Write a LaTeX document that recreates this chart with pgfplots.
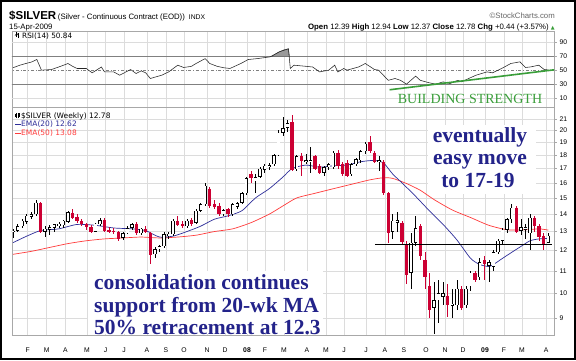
\documentclass[border=0pt]{standalone}
\usepackage{pgfplots}
\pgfplotsset{compat=1.18}
\usepackage{pgfplotstable}
\usepackage{fontspec}
\setmainfont{Liberation Sans}
\newfontfamily\serifface{Liberation Serif}
\newfontfamily\dejavu{DejaVu Sans}
\definecolor{cred}{HTML}{CC0033}
\definecolor{emablue}{HTML}{2E2E99}
\definecolor{emared}{HTML}{FF3B3B}
\definecolor{note}{HTML}{23238A}
\definecolor{grn}{HTML}{3A9E3A}
\definecolor{gridc}{HTML}{DCDCDC}
\definecolor{framec}{HTML}{A8A8A8}

% up candles (close >= open)
\pgfplotstableread{
i o h l c
-2 12.95 13.15 12.65 13.05
-1 13.05 13.40 12.95 13.30
0 13.30 13.70 13.20 13.60
1 13.55 14.00 13.45 13.90
2 13.85 14.10 13.70 14.00
3 14.00 14.85 13.90 14.70
5 13.00 13.30 12.70 13.15
6 13.10 13.35 12.80 13.25
7 13.20 13.45 13.00 13.40
8 13.30 13.55 13.20 13.45
9 13.35 13.65 13.20 13.60
10 13.55 14.20 13.50 14.10
16 13.00 13.50 12.95 13.45
17 13.40 13.75 13.30 13.65
22 12.65 13.00 12.55 12.90
23 12.90 13.30 12.85 13.20
24 13.20 13.50 13.10 13.40
26 12.90 13.20 12.80 13.15
29 11.80 12.15 11.60 12.05
30 12.05 12.30 11.90 12.20
31 12.20 12.95 12.10 12.85
32 12.75 12.95 12.60 12.88
33 12.85 13.70 12.75 13.60
36 13.30 13.70 13.20 13.60
38 13.50 14.30 13.40 14.20
39 14.20 14.70 14.10 14.60
40 14.60 16.00 14.50 15.80
44 14.00 14.30 13.90 14.25
46 14.00 14.70 13.90 14.60
47 14.45 14.75 14.30 14.65
48 14.70 15.40 14.60 15.30
49 15.30 16.40 15.20 16.30
51 16.10 16.60 15.30 16.40
52 16.40 17.10 16.30 17.00
53 16.90 17.30 16.70 17.20
54 17.12 17.40 16.90 17.25
55 17.30 18.10 17.20 18.00
56 18.00 20.00 17.90 19.80
57 19.80 21.20 19.50 20.20
58 20.20 20.90 19.90 20.60
60 16.95 18.00 16.80 17.90
62 17.47 18.10 17.30 17.60
63 17.45 18.60 16.70 17.60
66 16.70 17.20 16.50 17.10
67 17.10 17.40 16.90 17.30
68 17.10 18.30 17.00 18.20
72 16.60 17.40 16.50 17.30
73 17.30 17.80 17.20 17.70
74 17.60 18.40 17.40 18.30
75 18.30 19.00 18.10 18.90
78 17.45 17.90 16.80 17.60
81 13.00 14.00 12.60 13.60
82 13.50 14.10 13.00 13.65
85 10.90 12.90 10.20 12.40
86 12.40 13.90 12.20 13.20
90 9.40 10.50 8.40 9.70
91 9.70 10.60 8.80 10.00
92 9.85 10.50 9.50 10.00
94 9.48 10.20 9.00 9.56
95 9.50 10.60 9.30 10.20
97 9.50 10.30 9.40 10.20
98 10.30 11.00 10.10 10.90
100 10.70 11.60 10.60 11.40
102 11.25 11.50 10.50 11.40
103 11.20 12.00 11.00 11.90
104 11.90 12.60 11.80 12.50
105 12.50 13.20 12.30 13.10
106 13.10 13.80 12.90 13.70
107 13.70 14.60 13.50 14.40
109 13.05 13.70 12.80 13.25
110 13.10 13.40 12.60 13.25
111 12.90 14.00 12.00 13.80
115 12.39 12.94 12.37 12.78
}\upc

% down candles (close < open)
\pgfplotstableread{
i o h l c
4 14.65 14.75 12.90 13.00
11 14.05 14.30 13.70 13.80
12 13.85 14.00 13.50 13.60
13 13.60 13.70 13.30 13.40
14 13.40 13.50 13.10 13.25
15 13.25 13.35 12.90 13.00
18 13.65 13.80 12.95 13.05
19 13.10 13.25 12.90 13.00
20 13.05 13.20 12.85 12.95
21 12.95 13.05 12.50 12.60
25 13.45 13.55 12.80 12.90
27 13.15 13.30 12.90 12.95
28 12.90 13.00 11.30 11.75
34 13.60 13.90 13.30 13.35
35 13.40 13.60 13.20 13.30
37 13.65 13.80 13.30 13.40
41 15.60 15.70 14.40 14.50
42 14.60 14.90 14.30 14.45
43 14.50 14.70 13.90 14.00
45 14.30 14.40 13.85 14.00
50 16.60 16.80 16.00 16.30
59 20.70 21.35 16.80 16.90
61 17.90 18.20 16.50 17.55
64 17.90 18.00 16.90 17.00
65 17.20 17.30 16.60 16.70
69 18.20 18.40 17.00 17.20
70 17.30 17.50 16.50 16.60
71 17.40 17.60 16.40 16.50
76 19.00 19.50 18.20 18.30
77 18.20 18.30 17.40 17.50
79 17.50 17.60 15.20 15.30
80 15.30 15.40 12.40 12.90
83 13.50 13.60 12.30 12.45
84 12.30 12.50 10.40 10.80
87 13.30 13.40 11.50 11.70
88 11.50 11.90 10.20 10.70
89 10.30 10.90 9.00 9.30
93 9.90 10.40 9.05 9.50
96 10.20 10.30 9.30 9.40
99 10.90 11.00 10.50 10.60
101 11.50 11.70 10.60 11.30
108 14.40 14.50 12.90 13.00
112 13.80 13.90 13.00 13.30
113 13.30 13.40 12.50 12.70
114 12.75 12.90 12.00 12.35
}\dnc

\pgfplotsset{
  panel/.style={
    scale only axis, width=542pt, anchor=south west,
    xmin=-2.23, xmax=116.24,
    axis line style={framec, line width=0.5pt},
    grid style={gridc, line width=0.4pt},
    xtick={1.18,5.35,9.43,14.16,18.2,22.25,27.28,31.43,35.37,40.39,44.33,49.14,53.07,57.22,62.25,66.4,70.34,75.15,79.3,83.45,88.26,92.41,96.35,101.16,105.32,109.25,114.5},
    xmajorgrids,
    major x tick style={draw=none},
    ytick pos=right, yticklabel pos=right,
    ytick align=outside,
    major y tick style={framec, line width=0.4pt},
    major tick length=2.5pt,
    yticklabel style={font=\fontsize{6.8}{8}\selectfont, anchor=west, xshift=-0.5pt},
    xticklabel style={font=\fontsize{6.8}{8}\selectfont, anchor=base, yshift=-17.5pt},
  },
  wick/.style={draw=none, mark=none, forget plot,
    error bars/.cd, y dir=both, y explicit, error mark=none,
    error bar style={line width=0.6pt, #1}},
  body/.style={draw=none, mark=none, forget plot,
    error bars/.cd, y dir=both, y explicit, error mark=none,
    error bar style={line width=3.4pt, #1}},
}

\begin{document}
\begin{tikzpicture}
\fill[white] (0pt,0pt) rectangle (576pt,360pt);

% ---------------- RSI panel ----------------
\begin{axis}[panel, at={(12pt,253pt)}, height=76pt,
  ymin=-2.1, ymax=106.4,
  ytick={10,30,50,70,90}, yticklabels={10,30,50,70,90},
  xticklabels={}]
\addplot[gridc, line width=0.4pt, forget plot] coordinates {(-3,10) (117,10)};
\addplot[gridc, line width=0.4pt, forget plot] coordinates {(-3,90) (117,90)};
\addplot[gray, line width=0.6pt, forget plot] coordinates {(-3,70) (117,70)};
\addplot[gray, line width=0.6pt, forget plot] coordinates {(-3,30) (117,30)};
\addplot[gray, line width=0.5pt, dash dot, forget plot] coordinates {(-3,50) (117,50)};
\addplot[fill=gray!80, draw=black!70, line width=0.4pt, forget plot] coordinates {(54.5,70) (56.2,76.7) (57.2,79.5) (58.2,81) (58.4,70)} -- cycle;
\addplot[black!85, line width=0.55pt, forget plot] coordinates {
(-2,54) (-0.5,57.6) (0.8,60) (2,62) (3.2,65.7) (4.2,50.5) (6.4,51.4) (8.4,56) (10,60) (11,56)
(12,52.9) (14,52.9) (15.3,46.7) (17.3,55) (18,48) (20,48) (21.3,43.3) (23.7,51.4) (24.9,45.7)
(26,49.5) (27,46.7) (28,38.6) (30.5,43.3) (32,48) (34,57.6) (35.3,54.3) (37,56) (38,60) (40,67)
(41,60) (42.6,56) (44,54) (45.4,52.9) (47.8,60) (49.4,65.7) (51.4,67) (54.2,69.5) (56.2,76.7)
(58.2,81) (58.6,52.9) (59.4,57.6) (62,56) (63.5,55) (65,48) (67,50.5) (68.3,57.6) (69,48)
(70.3,52.9) (71,50.5) (73.5,55) (75,60) (77,51.4) (77.9,50.5) (80,36) (81.5,38.6) (82.7,36)
(84,30.5) (86,42) (87,36) (89,32.4) (90.4,30.5) (92,33.8) (93.5,31.4) (95.2,36) (96,33.8)
(97.6,38.6) (99.2,43.3) (100.4,45.7) (101.6,48) (102.8,46.7) (104.8,52.9) (106.8,60)
(108.8,62.4) (110,54.3) (111.2,55.2) (112.9,57.6) (114.1,51.4) (115,50.84)};
\addplot[grn, line width=1.6pt, forget plot] coordinates {(80.3,22.5) (116.3,51)};
\end{axis}

% ---------------- Price panel ----------------
\begin{axis}[panel, at={(12pt,25pt)}, height=228pt,
  ymode=log, ymin=8.37, ymax=22.09,
  ytick={9,10,11,12,13,14,15,16,17,18,19,20,21},
  yticklabels={9,10,11,12,13,14,15,16,17,18,19,20,21},
  ymajorgrids, yminorticks=false,
  xticklabels={F,M,A,M,J,J,A,S,O,N,D,\textbf{08},F,M,A,M,J,J,A,S,O,N,D,\textbf{09},F,M,A}]
% EMA lines
\addplot[emared, line width=0.7pt, smooth, tension=0.4, forget plot] coordinates {
(-2,11.8) (2,11.95) (6,12.15) (10,12.35) (14,12.5) (18,12.6) (22,12.65) (26,12.7) (30,12.65)
(34,12.7) (38,12.8) (42,13.0) (46,13.15) (50,13.5) (54,14.0) (57,14.5) (60,15.0) (64,15.3)
(68,15.6) (72,15.9) (76,16.2) (79,16.35) (81,16.3) (84,15.95) (87,15.5) (90,14.9) (94,14.25)
(98,13.8) (102,13.35) (106,13.1) (110,13.1) (113,13.15) (115,13.08)};
\addplot[emablue, line width=0.7pt, smooth, tension=0.4, forget plot] coordinates {
(-2,12.4) (1,12.75) (4,13.05) (8,13.15) (12,13.4) (16,13.35) (20,13.2) (24,13.15) (27,13.05)
(30,12.7) (33,12.75) (36,13.0) (39,13.3) (42,13.7) (45,13.9) (48,14.2) (51,15.0) (54,15.6)
(57,16.4) (59,17.0) (62,17.25) (65,17.1) (68,17.2) (71,17.25) (74,17.5) (77,17.6) (79,17.4)
(81,16.6) (83,16.0) (86,15.1) (89,14.2) (92,13.4) (95,12.55) (98,11.6) (100,11.3) (102,11.2)
(103,11.3) (105,11.6) (107,11.9) (109,12.2) (111,12.5) (113,12.6) (115,12.62)};
% wicks
\addplot[wick=black] table[x=i, y=c, y error plus expr=\thisrow{h}-\thisrow{c}, y error minus expr=\thisrow{c}-\thisrow{l}] {\upc};
\addplot[wick=cred] table[x=i, y=c, y error plus expr=\thisrow{h}-\thisrow{c}, y error minus expr=\thisrow{c}-\thisrow{l}] {\dnc};
% bodies
\addplot[body=cred] table[x=i, y=o, y error plus expr=0, y error minus expr=\thisrow{o}-\thisrow{c}] {\dnc};
\addplot[body=black] table[x=i, y=c, y error plus expr=0, y error minus expr=\thisrow{c}-\thisrow{o}] {\upc};
\addplot[body={white, line width=2.2pt, shorten <=0.55pt, shorten >=0.55pt}] table[x=i, y=c, y error plus expr=0, y error minus expr=\thisrow{c}-\thisrow{o}] {\upc};
% support line
\addplot[black, line width=1.5pt, forget plot] coordinates {(77.1,12.3) (115.8,12.3)};
\end{axis}

\begin{scope}[x=1pt,y=1pt]
% ---------------- header ----------------
\node[anchor=base west, inner sep=0] at (9,341) {{\fontsize{11.5}{12}\selectfont\bfseries \$SILVER}\,{\fontsize{7.8}{9}\selectfont (Silver - Continuous Contract (EOD))}\hspace{4pt}{\fontsize{6.8}{8}\selectfont INDX}};
\node[anchor=base east, inner sep=0, text=black!60] at (555,341.5) {\fontsize{7.8}{9}\selectfont \textcopyright StockCharts.com};
\node[anchor=base west, inner sep=0] at (9,330.8) {\fontsize{7.8}{9}\selectfont 15-Apr-2009};
\node[anchor=base east, inner sep=0] at (555,330.8) {\fontsize{7.8}{9}\selectfont \textbf{Open} 12.39 \textbf{High} 12.94 \textbf{Low} 12.37 \textbf{Close} 12.78 \textbf{Chg} +0.44 (+3.57\%) {\dejavu\color{grn}\fontsize{5}{6}\selectfont ▲}};

% ---------------- legends ----------------
\draw[black, line width=0.5pt] (16,323) -- (16,328); \draw[black, line width=0.5pt] (18.5,322) -- (18.5,327.5);
\draw[black, line width=0.5pt] (15,324.5) -- (17,326.5) -- (19,323.5);
\node[anchor=base west, inner sep=0] at (22,322) {\dejavu\fontsize{7.3}{8}\selectfont RSI(14) 50.84};

\draw[black, line width=0.5pt] (16,242) -- (16,247); \draw[black, line width=0.5pt] (18.5,242) -- (18.5,247.5);
\fill[black] (15.2,243) rectangle (16.8,246); \draw[black, line width=0.4pt] (17.7,243.5) rectangle (19.3,246.5);
\node[anchor=base west, inner sep=0] at (21,242) {\dejavu\fontsize{7.5}{8}\selectfont \$SILVER (Weekly) 12.78};
\draw[emablue, line width=1pt] (15,235.3) -- (20.5,235.3);
\node[anchor=base west, inner sep=0, text=emablue] at (21,233.3) {\dejavu\fontsize{7.5}{8}\selectfont EMA(20) 12.62};
\draw[emared, line width=1pt] (15,226.3) -- (20.5,226.3);
\node[anchor=base west, inner sep=0, text=emared] at (21,224.2) {\dejavu\fontsize{7.5}{8}\selectfont EMA(50) 13.08};

% ---------------- annotations ----------------
\node[anchor=base, inner sep=0, text=grn] at (470,257) {\serifface\fontsize{14}{15}\selectfont BUILDING STRENGTH};
\fill[white] (428,166) rectangle (536,235);
\node[anchor=base, inner sep=0, text=note] at (480,218) {\serifface\bfseries\fontsize{21.5}{23}\selectfont eventually};
\node[anchor=base, inner sep=0, text=note] at (480,196) {\serifface\bfseries\fontsize{21.5}{23}\selectfont easy move};
\node[anchor=base, inner sep=0, text=note] at (478,173) {\serifface\bfseries\fontsize{21.5}{23}\selectfont to 17-19};

\fill[white] (88,25.6) rectangle (323,89);
\node[anchor=base west, inner sep=0, text=note] at (94,71) {\serifface\bfseries\fontsize{21.5}{23}\selectfont consolidation continues};
\node[anchor=base west, inner sep=0, text=note] at (94,47.5) {\serifface\bfseries\fontsize{21.5}{23}\selectfont support from 20-wk MA};
\node[anchor=base west, inner sep=0, text=note] at (94,25.5) {\serifface\bfseries\fontsize{21.5}{23}\selectfont 50\% retracement at 12.3};

\draw[black, line width=2.4pt] (1.2,1.2) rectangle (574.8,358.8);
\end{scope}
\end{tikzpicture}
\end{document}
